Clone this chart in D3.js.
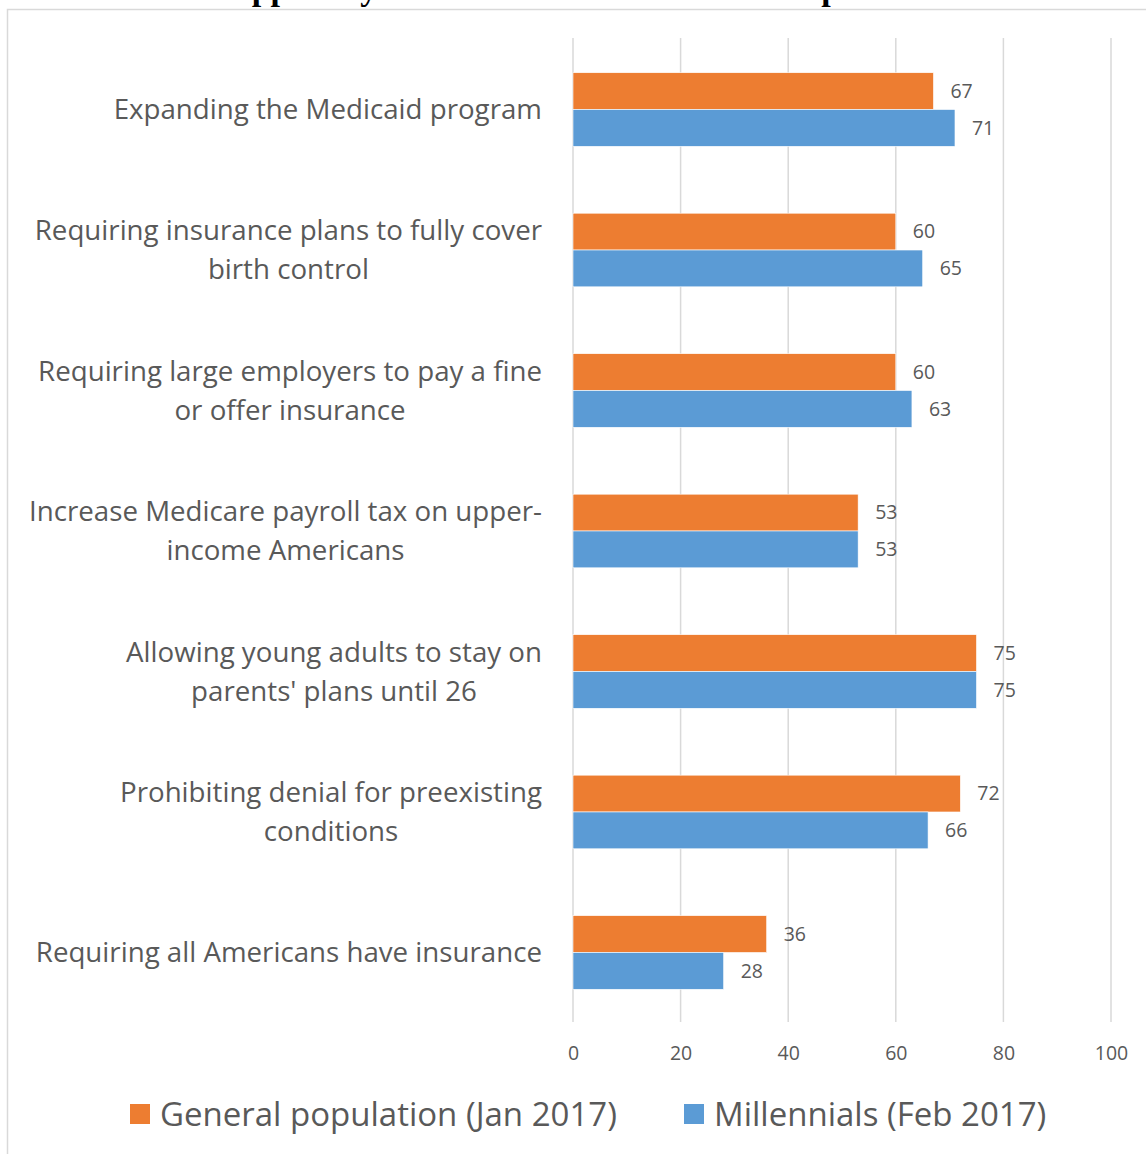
<!DOCTYPE html>
<html>
<head>
<meta charset="utf-8">
<script src="https://cdn.jsdelivr.net/npm/d3@7"></script>
<style>
  html, body { margin: 0; padding: 0; background: #fff; }
  svg { display: block; }
</style>
</head>
<body>
<svg id="chart" width="1146" height="1154"></svg>
<script>
// Provisions, top to bottom; each label may break over several lines
const categories = [
  ["Expanding the Medicaid program"],
  ["Requiring insurance plans to fully cover", "birth control"],
  ["Requiring large employers to pay a fine", "or offer insurance"],
  ["Increase Medicare payroll tax on upper-", "income Americans"],
  ["Allowing young adults to stay on", "parents' plans until 26"],
  ["Prohibiting denial for preexisting", "conditions"],
  ["Requiring all Americans have insurance"]
];
const seriesNames = ["General population (Jan 2017)", "Millennials (Feb 2017)"];
const generalPopulation = [67, 60, 60, 53, 75, 72, 36];
const millennials = [71, 65, 63, 53, 75, 66, 28];
const xTicks = [0, 20, 40, 60, 80, 100];
const titleText = "Support by Millennials vs. the General Population";

const colors = { "General population (Jan 2017)": "#ED7D31", "Millennials (Feb 2017)": "#5B9BD5" };
const textColor = "#595959";
const gridColor = "#d9d9d9";
const font = "'Open Sans', sans-serif";

const svg = d3.select("#chart");

// Outer chart frame (runs off the right and bottom of the page)
svg.append("rect")
  .attr("x", 7.5).attr("y", 9.5)
  .attr("width", 1200).attr("height", 1200)
  .attr("fill", "#fff")
  .attr("stroke", gridColor).attr("stroke-width", 1.5);

// Title sits above the frame, mostly beyond the top edge
svg.append("text")
  .attr("x", 578).attr("y", 0)
  .attr("text-anchor", "middle")
  .attr("font-family", "'Liberation Serif', 'Times New Roman', serif")
  .attr("font-weight", "bold")
  .attr("font-size", 34)
  .attr("fill", "#000")
  .text(titleText);

const plotTop = 38, plotBottom = 1022;
const x = d3.scaleLinear().domain([0, 100]).range([573, 1111]);
const y = d3.scaleBand()
  .domain(d3.range(categories.length))
  .range([plotTop + 1, plotBottom + 1])
  .paddingInner(0.476)
  .paddingOuter(0.24);
const ySub = d3.scaleBand().domain(seriesNames).range([0, y.bandwidth()]);

// Vertical gridlines
svg.append("g").selectAll("line")
  .data(xTicks)
  .join("line")
  .attr("x1", d => x(d)).attr("x2", d => x(d))
  .attr("y1", plotTop).attr("y2", plotBottom)
  .attr("stroke", gridColor).attr("stroke-width", 1.5);

// Tick labels along the bottom
const xAxis = d3.axisBottom(x).tickValues(xTicks).tickSize(0).tickPadding(0);
const gx = svg.append("g").attr("transform", `translate(0, ${plotBottom + 24})`).call(xAxis);
gx.select(".domain").remove();
gx.selectAll("text")
  .attr("font-family", font).attr("font-size", 19.5)
  .attr("fill", textColor).attr("dy", "0.71em");

// Bars and value labels
const rows = categories.map((c, i) => ({
  i,
  values: [
    { series: seriesNames[0], value: generalPopulation[i] },
    { series: seriesNames[1], value: millennials[i] }
  ]
}));

const groups = svg.append("g").selectAll("g")
  .data(rows)
  .join("g")
  .attr("transform", d => `translate(0, ${y(d.i)})`);

groups.selectAll("rect")
  .data(d => d.values)
  .join("rect")
  .attr("x", x(0))
  .attr("y", d => ySub(d.series))
  .attr("width", d => x(d.value) - x(0))
  .attr("height", ySub.bandwidth())
  .attr("fill", d => colors[d.series])
  .attr("stroke", "#fff").attr("stroke-width", 0.6);

groups.selectAll("text.value")
  .data(d => d.values)
  .join("text")
  .attr("class", "value")
  .attr("x", d => x(d.value) + 17)
  .attr("y", d => ySub(d.series) + ySub.bandwidth() / 2)
  .attr("dy", "0.35em")
  .attr("font-family", font).attr("font-size", 19.5)
  .attr("fill", textColor)
  .text(d => d.value);

// Category labels: block right-aligned to the axis, lines centred within it
const labelRight = 542, lineGap = 39;
const labels = svg.append("g").selectAll("g")
  .data(categories.map((lines, i) => ({ lines, i })))
  .join("g");

labels.each(function (d) {
  const g = d3.select(this);
  const cy = y(d.i) + y.bandwidth() / 2;
  const texts = g.selectAll("text")
    .data(d.lines)
    .join("text")
    .attr("y", (l, k) => cy + (k - (d.lines.length - 1) / 2) * lineGap)
    .attr("dy", "0.35em")
    .attr("text-anchor", "middle")
    .attr("font-family", font).attr("font-size", 27.7)
    .attr("fill", textColor)
    .text(l => l);
  const widths = texts.nodes().map(n => n.getComputedTextLength());
  const blockW = d3.max(widths);
  texts.attr("x", labelRight - blockW / 2);
});

// Legend
const legendItems = [
  { name: seriesNames[0], x: 130 },
  { name: seriesNames[1], x: 684 }
];
const legend = svg.append("g").selectAll("g")
  .data(legendItems)
  .join("g")
  .attr("transform", d => `translate(${d.x}, 1104)`);
legend.append("rect")
  .attr("width", 20).attr("height", 20)
  .attr("fill", d => colors[d.name]);
legend.append("text")
  .attr("x", 30).attr("y", 10).attr("dy", "0.36em")
  .attr("font-family", font).attr("font-size", 33)
  .attr("fill", textColor)
  .text(d => d.name);
</script>
</body>
</html>
